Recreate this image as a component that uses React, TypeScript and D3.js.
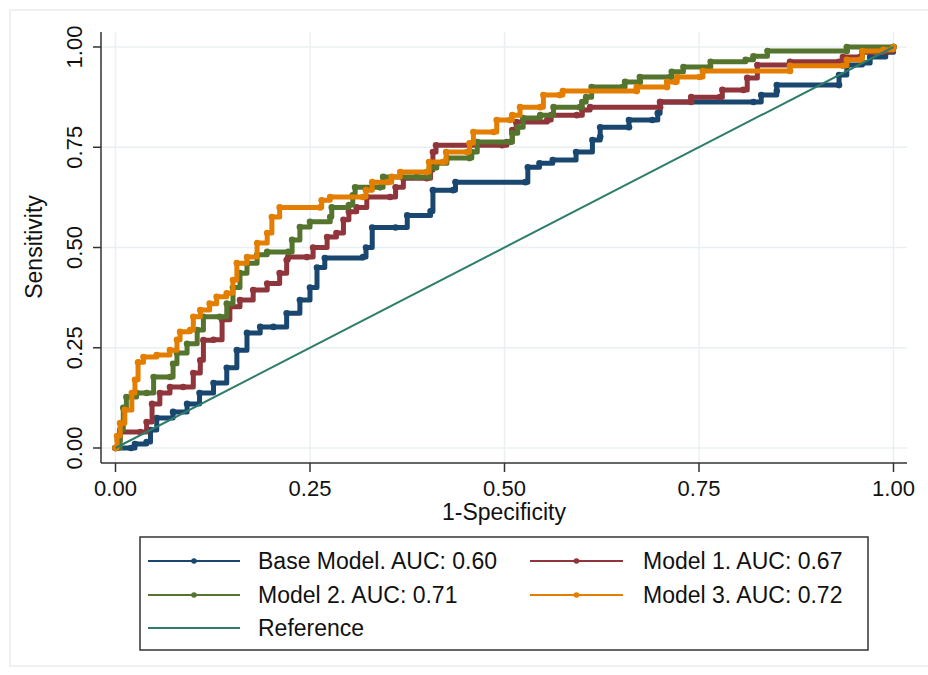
import React from 'react';
import * as d3 from 'd3';

// ROC points: [1-specificity, sensitivity]
const baseModel: [number, number][] = [
  [0, 0], [0.02, 0], [0.025, 0.01], [0.04, 0.015], [0.045, 0.045], [0.053, 0.075], [0.074, 0.09],
  [0.092, 0.11], [0.108, 0.137], [0.126, 0.162], [0.143, 0.2], [0.156, 0.244], [0.169, 0.287],
  [0.186, 0.302], [0.203, 0.302], [0.22, 0.336], [0.237, 0.369], [0.25, 0.4], [0.259, 0.45],
  [0.269, 0.474], [0.318, 0.476], [0.322, 0.5], [0.33, 0.55], [0.36, 0.55], [0.375, 0.58],
  [0.405, 0.59], [0.408, 0.643], [0.434, 0.643], [0.437, 0.663], [0.527, 0.663], [0.53, 0.7],
  [0.545, 0.71], [0.562, 0.718], [0.592, 0.738], [0.613, 0.768], [0.623, 0.776], [0.623, 0.8],
  [0.66, 0.8], [0.66, 0.818], [0.69, 0.818], [0.697, 0.835], [0.7, 0.863], [0.82, 0.863],
  [0.83, 0.88], [0.85, 0.89], [0.85, 0.905], [0.93, 0.905], [0.93, 0.93], [0.94, 0.955],
  [0.96, 0.96], [0.97, 0.975], [0.99, 0.987], [1, 1],
];

const model1: [number, number][] = [
  [0, 0], [0.003, 0.02], [0.006, 0.04], [0.032, 0.04], [0.04, 0.065], [0.047, 0.11], [0.057, 0.137],
  [0.07, 0.152], [0.087, 0.152], [0.1, 0.187], [0.109, 0.219], [0.113, 0.269], [0.126, 0.27],
  [0.137, 0.32], [0.147, 0.352], [0.16, 0.369], [0.177, 0.394], [0.195, 0.41], [0.211, 0.436],
  [0.22, 0.469], [0.222, 0.476], [0.246, 0.476], [0.254, 0.5], [0.272, 0.526], [0.284, 0.536],
  [0.293, 0.569], [0.3, 0.589], [0.31, 0.6], [0.323, 0.626], [0.353, 0.626], [0.36, 0.65],
  [0.37, 0.673], [0.4, 0.673], [0.405, 0.693], [0.408, 0.738], [0.412, 0.755], [0.497, 0.755],
  [0.503, 0.763], [0.51, 0.793], [0.515, 0.813], [0.555, 0.818], [0.56, 0.83], [0.593, 0.83],
  [0.6, 0.843], [0.61, 0.85], [0.7, 0.85], [0.7, 0.863], [0.74, 0.863], [0.74, 0.875],
  [0.777, 0.875], [0.78, 0.893], [0.807, 0.893], [0.812, 0.923], [0.825, 0.955], [0.867, 0.955],
  [0.867, 0.963], [0.93, 0.963], [0.935, 0.975], [0.957, 0.975], [0.96, 0.987], [0.99, 0.99], [1, 1],
];

const model2: [number, number][] = [
  [0, 0], [0.006, 0.045], [0.01, 0.1], [0.014, 0.127], [0.027, 0.137], [0.04, 0.137], [0.049, 0.177],
  [0.07, 0.177], [0.074, 0.21], [0.079, 0.237], [0.092, 0.26], [0.105, 0.294], [0.113, 0.327],
  [0.134, 0.327], [0.143, 0.36], [0.151, 0.4], [0.16, 0.436], [0.169, 0.461], [0.182, 0.482],
  [0.195, 0.489], [0.222, 0.489], [0.227, 0.519], [0.237, 0.551], [0.25, 0.564], [0.276, 0.576],
  [0.278, 0.6], [0.3, 0.606], [0.305, 0.63], [0.308, 0.65], [0.34, 0.65], [0.344, 0.676],
  [0.387, 0.676], [0.404, 0.698], [0.413, 0.71], [0.426, 0.723], [0.455, 0.723], [0.458, 0.738],
  [0.465, 0.763], [0.507, 0.763], [0.51, 0.785], [0.517, 0.8], [0.524, 0.823], [0.546, 0.83],
  [0.563, 0.85], [0.597, 0.85], [0.6, 0.863], [0.605, 0.875], [0.612, 0.9], [0.652, 0.9],
  [0.655, 0.913], [0.674, 0.913], [0.674, 0.925], [0.713, 0.925], [0.715, 0.938], [0.73, 0.95],
  [0.764, 0.95], [0.765, 0.963], [0.81, 0.968], [0.82, 0.977], [0.838, 0.99], [0.94, 0.99],
  [0.94, 1], [1, 1],
];

const model3: [number, number][] = [
  [0, 0], [0.002, 0.03], [0.006, 0.062], [0.012, 0.095], [0.021, 0.137], [0.025, 0.17], [0.029, 0.214],
  [0.036, 0.227], [0.053, 0.232], [0.07, 0.244], [0.079, 0.27], [0.083, 0.29], [0.096, 0.294],
  [0.1, 0.327], [0.109, 0.344], [0.121, 0.36], [0.13, 0.377], [0.143, 0.386], [0.151, 0.419],
  [0.156, 0.461], [0.169, 0.476], [0.182, 0.511], [0.195, 0.536], [0.201, 0.576], [0.211, 0.6],
  [0.263, 0.6], [0.265, 0.618], [0.276, 0.626], [0.318, 0.626], [0.322, 0.643], [0.33, 0.663],
  [0.35, 0.663], [0.355, 0.676], [0.366, 0.688], [0.4, 0.688], [0.403, 0.713], [0.421, 0.713],
  [0.425, 0.738], [0.452, 0.738], [0.455, 0.76], [0.46, 0.788], [0.486, 0.788], [0.49, 0.818],
  [0.507, 0.818], [0.51, 0.83], [0.52, 0.85], [0.546, 0.85], [0.55, 0.88], [0.571, 0.88],
  [0.575, 0.89], [0.67, 0.89], [0.67, 0.9], [0.709, 0.9], [0.709, 0.913], [0.72, 0.913],
  [0.722, 0.925], [0.751, 0.925], [0.755, 0.94], [0.867, 0.94], [0.867, 0.953], [0.935, 0.953],
  [0.94, 0.968], [0.957, 0.968], [0.96, 0.99], [0.987, 0.993], [1, 1],
];

const reference: [number, number][] = [[0, 0], [1, 1]];

const ticks = [0, 0.25, 0.5, 0.75, 1];
const tickLabels = ['0.00', '0.25', '0.50', '0.75', '1.00'];

const series = [
  { name: 'Base Model. AUC: 0.60', data: baseModel, color: '#1a476f' },
  { name: 'Model 1. AUC: 0.67', data: model1, color: '#90353b' },
  { name: 'Model 2. AUC: 0.71', data: model2, color: '#55752f' },
  { name: 'Model 3. AUC: 0.72', data: model3, color: '#e37e00' },
];
const refColor = '#2e7d6b';

const font = '"Liberation Sans", Arial, Helvetica, sans-serif';

export default function App() {
  const x = d3.scaleLinear().domain([0, 1]).range([115.5, 893.5]);
  const y = d3.scaleLinear().domain([0, 1]).range([448, 47]);
  const stepLine = d3.line<[number, number]>().x(d => x(d[0])).y(d => y(d[1])).curve(d3.curveStepAfter);
  const line = d3.line<[number, number]>().x(d => x(d[0])).y(d => y(d[1]));

  const axisX = 101, axisY = 463, plotRight = 907, plotTop = 32;

  // legend layout
  const legend = { x: 140, y: 537, w: 728, h: 113 };
  const rows = [561, 595, 628];
  const cols = [{ l0: 148, l1: 240, t: 258 }, { l0: 530, l1: 623, t: 643 }];
  const legendItems = [
    ...series.map((s, i) => ({ ...s, col: i % 2, row: Math.floor(i / 2), dot: true })),
    { name: 'Reference', color: refColor, col: 0, row: 2, dot: false },
  ];

  return (
    <svg width={928} height={675} style={{ position: 'absolute', left: 0, top: 0, background: '#fff' }}
      fontFamily={font}>
      <rect x={10} y={10} width={930} height={656} fill="#fff" stroke="#ececec" strokeWidth={1.5} />

      {/* grid */}
      {ticks.map(t => (
        <g key={'g' + t}>
          <line x1={axisX} x2={plotRight} y1={y(t)} y2={y(t)} stroke="#eaf0f2" strokeWidth={1.5} />
          <line x1={x(t)} x2={x(t)} y1={plotTop} y2={axisY} stroke="#eaf0f2" strokeWidth={1.5} />
        </g>
      ))}

      {/* axes */}
      <line x1={axisX} x2={axisX} y1={plotTop} y2={axisY} stroke="#333" strokeWidth={1.5} />
      <line x1={axisX} x2={plotRight} y1={axisY} y2={axisY} stroke="#333" strokeWidth={1.5} />
      {ticks.map((t, i) => (
        <g key={'t' + t}>
          <line x1={axisX - 8} x2={axisX} y1={y(t)} y2={y(t)} stroke="#333" strokeWidth={1.5} />
          <text transform={`translate(82,${y(t)}) rotate(-90)`} textAnchor="middle" fontSize={22} fill="#111">
            {tickLabels[i]}
          </text>
          <line x1={x(t)} x2={x(t)} y1={axisY} y2={axisY + 9} stroke="#333" strokeWidth={1.5} />
          <text x={x(t)} y={496} textAnchor="middle" fontSize={22} fill="#111">{tickLabels[i]}</text>
        </g>
      ))}
      <text x={504} y={520} textAnchor="middle" fontSize={23} fill="#111">1-Specificity</text>
      <text transform={`translate(42,247) rotate(-90)`} textAnchor="middle" fontSize={23} fill="#111">Sensitivity</text>

      {/* curves */}
      {series.map(s => (
        <g key={s.name}>
          <path d={stepLine(s.data) || ''} fill="none" stroke={s.color} strokeWidth={5}
            strokeLinejoin="round" strokeLinecap="round" />
          {s.data.map((d, i) => (
            <circle key={i} cx={x(d[0])} cy={y(d[1])} r={3.3} fill={s.color} />
          ))}
        </g>
      ))}
      <path d={line(reference) || ''} fill="none" stroke={refColor} strokeWidth={2} />

      {/* legend */}
      <rect x={legend.x} y={legend.y} width={legend.w} height={legend.h} fill="#fff" stroke="#333" strokeWidth={1.5} />
      {legendItems.map(it => {
        const c = cols[it.col];
        const ry = rows[it.row];
        return (
          <g key={it.name}>
            <line x1={c.l0} x2={c.l1} y1={ry} y2={ry} stroke={it.color} strokeWidth={2} />
            {it.dot && <circle cx={(c.l0 + c.l1) / 2} cy={ry} r={2.8} fill={it.color} />}
            <text x={c.t} y={ry + 8} fontSize={23} fill="#111">{it.name}</text>
          </g>
        );
      })}
    </svg>
  );
}
